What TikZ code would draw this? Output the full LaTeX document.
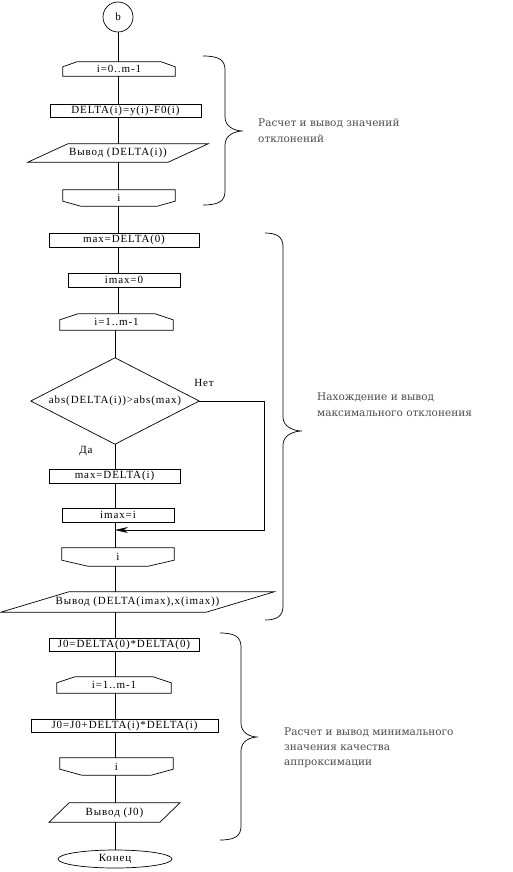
\documentclass[tikz,border=0pt]{standalone}
\usepackage{fontspec}
\newfontfamily\boxfont[LetterSpace=8]{Liberation Serif}
\newfontfamily\labelfont{DejaVu Serif}
\usetikzlibrary{shapes.geometric,arrows.meta}
\tikzset{
  line/.style={line width=0.7pt, black},
  base/.style={inner sep=0pt, font=\boxfont\fontsize{11}{13}\selectfont},
  proc/.style={base, draw, line width=0.7pt, rectangle},
  loopn/.style={base, rectangle},
  ion/.style={base, rectangle},
  circ/.style={base, draw, line width=0.7pt, circle, minimum size=30pt},
  term/.style={base, draw, line width=0.7pt, ellipse, minimum width=114pt, minimum height=18pt},
  dec/.style={base, rectangle, minimum width=168pt, minimum height=86pt},
  yn/.style={base},
  lbl/.style={font=\labelfont\fontsize{10.5}{16}\selectfont, text=black!70, align=left, anchor=west, inner sep=0pt},
}
% loop start: name, horizontal chamfer, vertical chamfer
\newcommand\looptop[3]{\draw[line] ([yshift=-#3]#1.north west) -- ([xshift=#2]#1.north west) -- ([xshift=-#2]#1.north east) -- ([yshift=-#3]#1.north east) -- (#1.south east) -- (#1.south west) -- cycle;}
% loop end
\newcommand\loopbot[3]{\draw[line] (#1.north west) -- (#1.north east) -- ([yshift=#3]#1.south east) -- ([xshift=-#2]#1.south east) -- ([xshift=#2]#1.south west) -- ([yshift=#3]#1.south west) -- cycle;}
% parallelogram: name, half skew
\newcommand\para[2]{\draw[line] ([xshift=#2]#1.north west) -- ([xshift=#2]#1.north east) -- ([xshift=-#2]#1.south east) -- ([xshift=-#2]#1.south west) -- cycle;}
% right brace: x end, x straight, x tip, y top, y mid, y bottom
\newcommand\mybrace[6]{\draw[line] (#1,#4) .. controls (#2-6,#4) and (#2,#4+4) .. (#2,#4+14) -- (#2,#5-14) .. controls (#2,#5-4) and (#3-8,#5) .. (#3,#5) .. controls (#3-8,#5) and (#2,#5+4) .. (#2,#5+14) -- (#2,#6-14) .. controls (#2,#6-4) and (#2-6,#6) .. (#1,#6);}
\begin{document}
\begin{tikzpicture}[x=1pt,y=-1pt]
\fill[white] (0,0) rectangle (513,872);
\useasboundingbox (0,0) rectangle (513,872);
\coordinate (ax1) at (118,0);
\coordinate (ax2) at (115,0);

% section 1
\node[circ] (b) at (118,17) {b};
\node[loopn, minimum width=112pt, minimum height=14pt] (L1) at (119,69) {i=0..m-1};
\looptop{L1}{14pt}{5pt}
\node[proc, minimum width=151pt, minimum height=13pt] (D1) at (125.5,110.5) {DELTA(i)=y(i)-F0(i)};
\node[ion, minimum width=140pt, minimum height=18pt] (P1) at (118,153) {Вывод (DELTA(i))};
\para{P1}{20pt}
\node[loopn, minimum width=112pt, minimum height=16pt] (E1) at (119,198) {i};
\loopbot{E1}{18pt}{5pt}

% section 2
\node[proc, minimum width=150pt, minimum height=14pt] (M1) at (124,240) {max=DELTA(0)};
\node[proc, minimum width=112pt, minimum height=14pt] (M2) at (124,280) {imax=0};
\node[loopn, minimum width=113pt, minimum height=16pt] (L2) at (116.5,322) {i=1..m-1};
\looptop{L2}{18pt}{6pt}
\node[dec] (Q) at (115,401) {abs(DELTA(i))>abs(max)};
\draw[line] (Q.west) -- (Q.north) -- (Q.east) -- (Q.south) -- cycle;
\node[yn] (no) at (204,383) {Нет};
\node[yn] (yes) at (86,451) {Да};
\node[proc, minimum width=131pt, minimum height=14pt] (M3) at (114.5,476) {max=DELTA(i)};
\node[proc, minimum width=112pt, minimum height=14pt] (M4) at (118,515) {imax=i};
\coordinate (j) at (115,530);
\node[loopn, minimum width=112pt, minimum height=18pt] (E2) at (118,557) {i};
\loopbot{E2}{26pt}{6pt}
\node[ion, minimum width=205pt, minimum height=20pt] (P2) at (137.5,602) {Вывод (DELTA(imax),x(imax))};
\para{P2}{34pt}

% section 3
\node[proc, minimum width=150pt, minimum height=13pt] (N1) at (124,645) {J0=DELTA(0)*DELTA(0)};
\node[loopn, minimum width=114pt, minimum height=16pt] (L3) at (114,685) {i=1..m-1};
\looptop{L3}{18pt}{6pt}
\node[proc, minimum width=187pt, minimum height=13pt] (N2) at (124.5,725.5) {J0=J0+DELTA(i)*DELTA(i)};
\node[loopn, minimum width=113pt, minimum height=17pt] (E3) at (116.5,766.5) {i};
\loopbot{E3}{22pt}{6pt}
\node[ion, minimum width=110.5pt, minimum height=19pt] (P3) at (114.5,812.5) {Вывод (J0)};
\para{P3}{10pt}
\node[term] (K) at (115,859) {Конец};

% main flow lines
\draw[line] (b.south) -- (L1.north -| ax1);
\draw[line] (L1.south -| ax1) -- (D1.north -| ax1);
\draw[line] (D1.south -| ax1) -- (P1.north -| ax1);
\draw[line] (P1.south -| ax1) -- (E1.north -| ax1);
\draw[line] (E1.south -| ax1) -- (M1.north -| ax1);
\draw[line] (M1.south -| ax1) -- (M2.north -| ax1);
\draw[line] (M2.south -| ax1) -- (L2.north -| ax1);
\draw[line] (L2.south -| ax2) -- (Q.north);
\draw[line] (Q.south) -- (M3.north -| ax2);
\draw[line] (M3.south -| ax2) -- (M4.north -| ax2);
\draw[line] (M4.south -| ax2) -- (E2.north -| ax2);
\draw[line] (E2.south -| ax2) -- (P2.north -| ax2);
\draw[line] (P2.south -| ax2) -- (N1.north -| ax2);
\draw[line] (N1.south -| ax2) -- (L3.north -| ax2);
\draw[line] (L3.south -| ax2) -- (N2.north -| ax2);
\draw[line] (N2.south -| ax2) -- (E3.north -| ax2);
\draw[line] (E3.south -| ax2) -- (P3.north -| ax2);
\draw[line] (P3.south -| ax2) -- (K.north);
\draw[line, -{Stealth[length=13pt,width=6pt]}] (Q.east) -- ++(65,0) |- (j);

% braces and notes
\mybrace{203}{225}{243}{56}{131}{205}
\node[lbl] (T1) at (258,131) {Расчет и вывод значений\\отклонений};
\mybrace{265}{283}{302}{233}{431}{620}
\node[lbl] (T2) at (317,405) {Нахождение и вывод\\максимального отклонения};
\mybrace{220}{241}{258}{633}{737}{840}
\node[lbl, font=\labelfont\fontsize{10.5}{15}\selectfont] (T3) at (284,748) {Расчет и вывод минимального\\значения качества\\аппроксимации};
\end{tikzpicture}
\end{document}
